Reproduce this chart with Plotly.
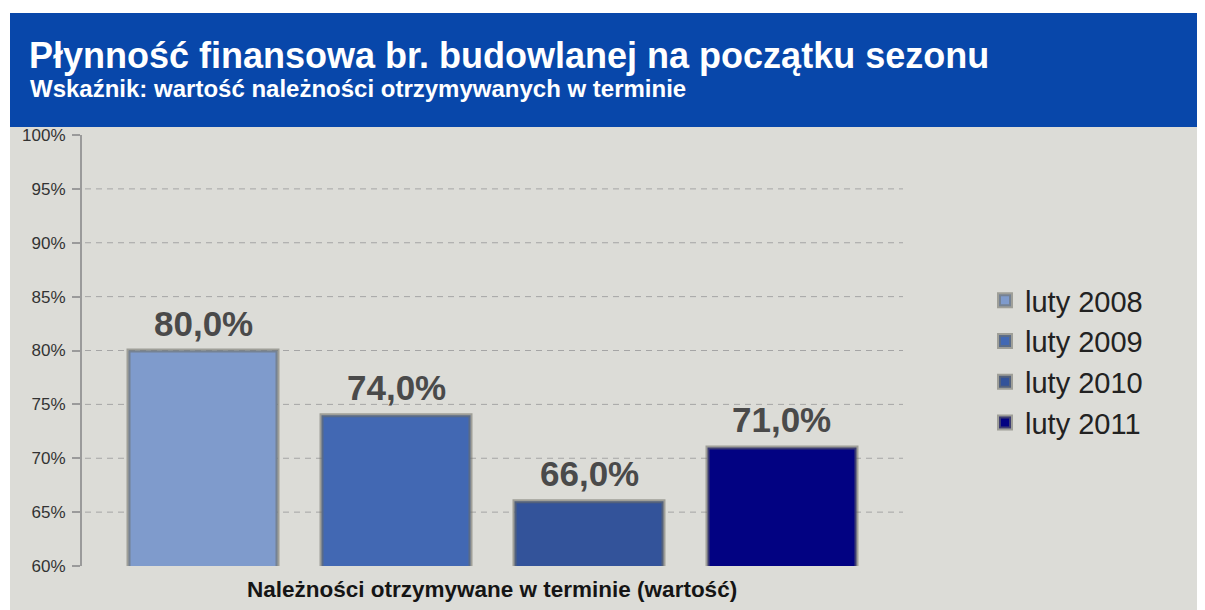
import plotly.graph_objects as go

# ---- data ----
series_names = ["luty 2008", "luty 2009", "luty 2010", "luty 2011"]
values = [80.0, 74.0, 66.0, 71.0]
bar_colors = ["#7f9bcc", "#4268b3", "#33539a", "#020282"]
y_ticks = [60, 65, 70, 75, 80, 85, 90, 95, 100]
y_tick_labels = ["60%", "65%", "70%", "75%", "80%", "85%", "90%", "95%", "100%"]
grid_ticks = [65, 70, 75, 80, 85, 90, 95]
title_text = "Płynność finansowa br. budowlanej na początku sezonu"
subtitle_text = "Wskaźnik: wartość należności otrzymywanych w terminie"
x_label = "Należności otrzymywane w terminie (wartość)"

# page has an 8px body margin; figure is sized/positioned to compensate
OFF = 8
W, H = 1205 - OFF, 610 - OFF
PLOT_L, PLOT_R, PLOT_T, PLOT_B = 82, 903, 135, 566   # page pixels
L, R, T, B = PLOT_L - OFF, W - (PLOT_R - OFF), PLOT_T - OFF, H - (PLOT_B - OFF)
PW, PH = PLOT_R - PLOT_L, PLOT_B - PLOT_T


def px(x):
    return (x - PLOT_L) / PW


def py(y):
    return (PLOT_B - y) / PH


FONT = "Liberation Sans, Arial, sans-serif"

fig = go.Figure()
for name, v, c in zip(series_names, values, bar_colors):
    fig.add_trace(go.Bar(
        x=[name], y=[v], name=name, width=0.772,
        marker=dict(color=c, line=dict(color="rgba(110,110,100,0.55)", width=4)),
        hoverinfo="skip",
    ))

annotations = []
for name, v in zip(series_names, values):
    annotations.append(dict(
        x=name, y=v, xref="x", yref="y", text=f"<b>{v:.1f}%</b>".replace(".", ","),
        showarrow=False, yanchor="bottom", yshift=6,
        font=dict(family=FONT, size=35, color="#4a4a4a"),
    ))

annotations += [
    dict(x=px(27), y=py(56), xref="paper", yref="paper", xanchor="left", yanchor="middle",
         text=f"<b>{title_text}</b>", showarrow=False,
         font=dict(family=FONT, size=36, color="white")),
    dict(x=px(28), y=py(89), xref="paper", yref="paper", xanchor="left", yanchor="middle",
         text=f"<b>{subtitle_text}</b>", showarrow=False,
         font=dict(family=FONT, size=24, color="white")),
    dict(x=px(492), y=py(589), xref="paper", yref="paper", xanchor="center", yanchor="middle",
         text=f"<b>{x_label}</b>", showarrow=False,
         font=dict(family=FONT, size=22.5, color="#151515")),
]

shapes = [
    dict(type="rect", xref="paper", yref="paper", x0=px(10), x1=px(1215), y0=py(620), y1=py(127),
         fillcolor="#dcdcd7", line=dict(width=0), layer="below"),
    dict(type="rect", xref="paper", yref="paper", x0=px(10), x1=px(1215), y0=py(127), y1=py(13),
         fillcolor="#0847aa", line=dict(width=0), layer="below"),
]
for g in grid_ticks:
    shapes.append(dict(type="line", xref="paper", yref="y", x0=px(85), x1=1.0, y0=g, y1=g,
                       line=dict(color="#a5a5a5", width=1, dash="6px,5px"), layer="below"))

fig.update_layout(
    width=W, height=H,
    margin=dict(l=L, r=R, t=T, b=B),
    paper_bgcolor="white", plot_bgcolor="rgba(0,0,0,0)",
    barmode="overlay",
    showlegend=True,
    legend=dict(x=px(985), y=py(275), xanchor="left", yanchor="top",
                font=dict(family=FONT, size=29, color="#222222"),
                bgcolor="rgba(0,0,0,0)", itemclick=False),
    xaxis=dict(type="category", range=[-0.627, 3.627], showticklabels=False, showgrid=False,
               showline=False, zeroline=False, ticks=""),
    yaxis=dict(range=[60, 100], tickvals=y_ticks, ticktext=y_tick_labels, showgrid=False,
               showline=True, linecolor="#9a9a9a", linewidth=2, ticks="outside", ticklen=8,
               tickcolor="#9a9a9a", tickwidth=1.5, zeroline=False, ticklabelstandoff=3,
               tickfont=dict(family=FONT, size=17, color="#333333")),
    annotations=annotations,
    shapes=shapes,
)

fig.write_html("out.html")
